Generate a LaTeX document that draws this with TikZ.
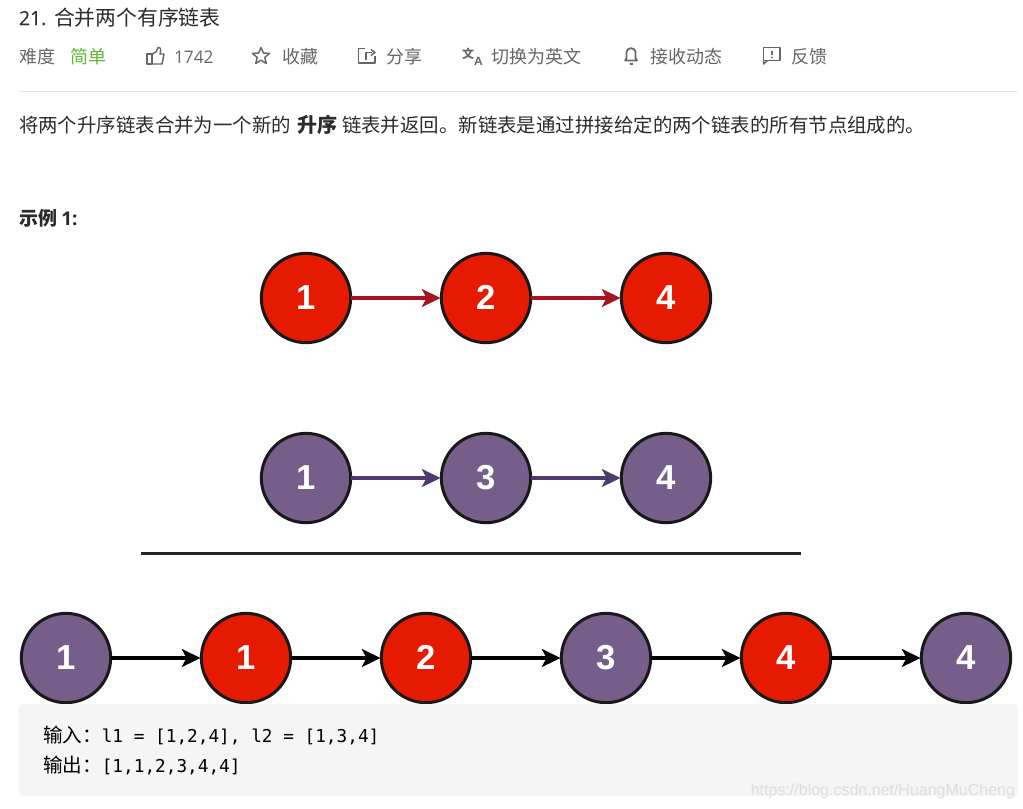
\documentclass[tikz,border=0pt]{standalone}
\usepackage{fontspec}
\usetikzlibrary{arrows.meta}
\setmainfont{Open Sans}
\setmonofont{DejaVu Sans Mono}
\newfontfamily\cjk{Noto Sans CJK SC}
\newfontfamily\digitfont{Liberation Sans}
\newfontfamily\titlefont[FakeBold=0.25]{Open Sans}
\newcommand{\fs}[1]{\fontsize{#1}{#1}\selectfont}
\definecolor{listred}{HTML}{E61A00}
\definecolor{listpurple}{HTML}{765E8A}
\definecolor{linkred}{HTML}{A51420}
\definecolor{linkpurple}{HTML}{4F3A6E}
\definecolor{textgray}{HTML}{666666}
\definecolor{textdark}{HTML}{2B2B2B}
\definecolor{easygreen}{HTML}{5CB82E}
\definecolor{boxgray}{HTML}{F5F5F5}
\tikzset{
	listnode/.style={circle, draw=black!90, line width=2.25pt, minimum size=67pt, inner sep=0pt,
		text=white, font=\digitfont\bfseries\fs{26}, text height=17.6pt, text depth=0pt},
	rednode/.style={listnode, fill=listred},
	purplenode/.style={listnode, fill=listpurple},
	link/.style={line width=2.3pt, -{Stealth[length=14pt,width=13.5pt,inset=3.5pt]},
		shorten >=-0.5pt, shorten <=-1pt},
	txt/.style={anchor=base west, inner sep=0pt, outer sep=0pt},
	bartext/.style={txt, text=textgray, font=\cjk\fs{13.5}},
	bodytext/.style={txt, text=textdark, font=\cjk\fs{14.58}},
	codetext/.style={txt, text=black, font=\ttfamily\fs{13.3}},
	icon/.style={draw=textgray, line width=1.1pt, line join=round}
}
\begin{document}
\begin{tikzpicture}[x=0.75pt,y=-0.75pt]
	\useasboundingbox (0,0) rectangle (1023,808);

	% title
	\node[txt, text=textdark, font=\titlefont\fs{14.5}] (number) at (19,25) {21.};
	\node[bodytext, font=\cjk\fs{15.6}] (title) at (54,25) {合并两个有序链表};

	% toolbar
	\node[bartext] (level) at (19,63) {难度};
	\node[bartext, text=easygreen] (easy) at (70,63) {简单};
	\node[txt, text=textgray, font=\fs{13}] (likes) at (174,63) {1742};
	\node[bartext] (collect) at (282,63) {收藏};
	\node[bartext] (share) at (386,63) {分享};
	\node[bartext] (english) at (491,63) {切换为英文};
	\node[bartext] (notify) at (650,63) {接收动态};
	\node[bartext] (feedback) at (791,63) {反馈};

	% icons
	\draw[icon] (147,54) rectangle (152,64);
	\draw[icon] (152,54) -- (156,52) -- (158,47.5) .. controls (161,47) and (161,50) .. (160,54)
		-- (164,54) -- (162,64) -- (152,64);
	\draw[icon] (261,47.5) -- (263.4,53) -- (269.6,53.4) -- (264.8,57.4) -- (266.3,63.5) -- (261,60.2)
		-- (255.7,63.5) -- (257.2,57.4) -- (252.4,53.4) -- (258.6,53) -- cycle;
	\draw[icon] (365,48.5) -- (358.5,48.5) -- (358.5,63) -- (375,63) -- (375,56);
	\draw[icon] (366,60) -- (366,52.5) -- (372,52.5);
	\draw[icon] (371,49.5) -- (375,52.5) -- (371,55.5);
	\node[txt, text=textgray, font=\cjk\bfseries\fs{9}] (wen) at (462,58.5) {文};
	\node[txt, text=textgray, font=\digitfont\bfseries\fs{9}] (letter) at (474,65) {A};
	\draw[icon, line width=1.3pt] (625,60.5) -- (637,60.5) -- (635.5,58) -- (635.5,53)
		.. controls (635.5,46.5) and (626.5,46.5) .. (626.5,53)
		-- (626.5,58) -- cycle;
	\draw[icon] (629.5,63.8) -- (632.5,63.8);
	\draw[icon] (763.5,47.5) rectangle (780,60.5);
	\draw[icon] (763.5,60.5) -- (763.5,64) -- (767.5,60.5);
	\draw[icon] (771.8,50.5) -- (771.8,55);
	\fill[textgray] (771.8,57.5) circle (1);

	% rule
	\draw[line width=0.75pt, color=black!9] (19,91.5) -- (1018,91.5);

	% description
	\node[bodytext] (descleft) at (19,132) {将两个升序链表合并为一个新的};
	\node[bodytext, font=\cjk\bfseries\fs{15}] (descbold) at (297,132) {升序};
	\node[bodytext] (descright) at (342,132) {链表并返回。新链表是通过拼接给定的两个链表的所有节点组成的。};
	\node[txt, text=textdark, font=\cjk\bfseries\fs{14.25}] (example) at (19,225) {示例 {\rmfamily\bfseries 1:}};

	% first list
	\node[rednode] (ra) at (306,298) {1};
	\node[rednode] (rb) at (486,298) {2};
	\node[rednode] (rc) at (666,298) {4};
	\draw[link, color=linkred] (ra) -- (rb);
	\draw[link, color=linkred] (rb) -- (rc);

	% second list
	\node[purplenode] (pa) at (306,478) {1};
	\node[purplenode] (pb) at (486,478) {3};
	\node[purplenode] (pc) at (666,478) {4};
	\draw[link, color=linkpurple] (pa) -- (pb);
	\draw[link, color=linkpurple] (pb) -- (pc);

	% sum line
	\draw[line width=2.25pt, color=black!85] (141,553) -- (801,553);

	% merged list
	\node[purplenode] (ma) at (66,658) {1};
	\node[rednode] (mb) at (246,658) {1};
	\node[rednode] (mc) at (426,658) {2};
	\node[purplenode] (md) at (606,658) {3};
	\node[rednode] (me) at (786,658) {4};
	\node[purplenode] (mf) at (966,658) {4};
	\draw[link, color=black] (ma) -- (mb);
	\draw[link, color=black] (mb) -- (mc);
	\draw[link, color=black] (mc) -- (md);
	\draw[link, color=black] (md) -- (me);
	\draw[link, color=black] (me) -- (mf);

	% code block
	\fill[color=boxgray, rounded corners=3pt] (19,704) rectangle (1018,796);
	\node[codetext] (input) at (43,742) {{\cjk\fs{14.7}输入：}l1 = [1,2,4], l2 = [1,3,4]};
	\node[codetext] (output) at (43,772) {{\cjk\fs{14.7}输出：}[1,1,2,3,4,4]};
	\node[txt, anchor=base east, text=black!13, font=\digitfont\fs{12}] (mark) at (1015,795) {https://blog.csdn.net/HuangMuCheng};
\end{tikzpicture}
\end{document}
